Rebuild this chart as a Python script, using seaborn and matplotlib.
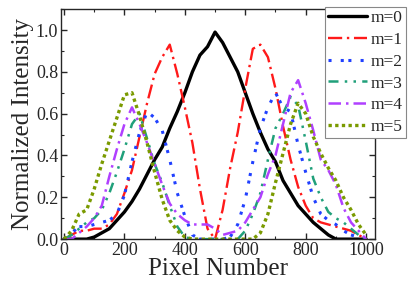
import numpy as np
import pandas as pd
import matplotlib
matplotlib.use("Agg")
import matplotlib.pyplot as plt
from matplotlib.ticker import AutoMinorLocator, MultipleLocator, FormatStrFormatter
import seaborn as sns

# pixel positions shared by all modes
pixel = list(range(0, 1001, 25))

m0 = [0.0, 0.0, 0.0, 0.0, 0.01, 0.03, 0.05, 0.09, 0.13, 0.18, 0.24, 0.31, 0.38, 0.44, 0.53, 0.61,
      0.70, 0.80, 0.88, 0.92, 0.99, 0.94, 0.87, 0.80, 0.70, 0.60, 0.51, 0.43, 0.37, 0.28, 0.22,
      0.16, 0.12, 0.08, 0.05, 0.02, 0.0, 0.0, 0.0, 0.0, 0.0]
m1 = [0.0, 0.02, 0.04, 0.04, 0.05, 0.05, 0.07, 0.12, 0.22, 0.33, 0.49, 0.65, 0.79, 0.87, 0.93, 0.79,
      0.63, 0.46, 0.24, 0.05, 0.0, 0.14, 0.34, 0.51, 0.72, 0.91, 0.93, 0.87, 0.72, 0.54, 0.38,
      0.25, 0.16, 0.10, 0.08, 0.07, 0.06, 0.05, 0.04, 0.02, 0.0]
m2 = [0.0, 0.03, 0.06, 0.06, 0.07, 0.08, 0.09, 0.12, 0.21, 0.37, 0.51, 0.61, 0.58, 0.52, 0.38, 0.22,
      0.11, 0.02, 0.0, 0.0, 0.0, 0.0, 0.01, 0.07, 0.19, 0.37, 0.53, 0.63, 0.70, 0.63, 0.61,
      0.45, 0.32, 0.20, 0.12, 0.09, 0.07, 0.04, 0.02, 0.01, 0.0]
m3 = [0.0, 0.02, 0.05, 0.08, 0.10, 0.14, 0.22, 0.32, 0.43, 0.55, 0.60, 0.48, 0.36, 0.27, 0.16, 0.06,
      0.01, 0.0, 0.0, 0.0, 0.0, 0.0, 0.0, 0.0, 0.04, 0.12, 0.22, 0.38, 0.53, 0.60, 0.68,
      0.64, 0.47, 0.29, 0.20, 0.13, 0.10, 0.08, 0.05, 0.02, 0.0]
m4 = [0.0, 0.0, 0.03, 0.06, 0.10, 0.16, 0.30, 0.43, 0.55, 0.63, 0.55, 0.46, 0.36, 0.26, 0.17, 0.12,
      0.09, 0.07, 0.07, 0.07, 0.05, 0.02, 0.03, 0.04, 0.08, 0.14, 0.20, 0.31, 0.40, 0.55, 0.70,
      0.76, 0.65, 0.52, 0.38, 0.33, 0.26, 0.15, 0.08, 0.04, 0.0]
m5 = [0.0, 0.04, 0.12, 0.14, 0.24, 0.36, 0.47, 0.58, 0.69, 0.70, 0.59, 0.46, 0.32, 0.19, 0.09, 0.04,
      0.01, 0.0, 0.0, 0.0, 0.0, 0.0, 0.0, 0.0, 0.0, 0.0, 0.03, 0.12, 0.27, 0.41, 0.55,
      0.65, 0.60, 0.49, 0.41, 0.34, 0.28, 0.20, 0.14, 0.07, 0.02]

labels = ["m=0", "m=1", "m=2", "m=3", "m=4", "m=5"]
colors = ["black", "#ff1a1a", "#2040ff", "#20a07a", "#b040ff", "#7a9a00"]
styles = ["-", (0, (6, 2, 1, 2)), (0, (1, 3, 1, 1.5, 1, 3)), (0, (4, 2.5, 1, 2.5, 1, 2.5)),
          (0, (5, 2, 1, 2)), (0, (1, 1))]
widths = [2.4, 1.7, 2.2, 1.8, 1.8, 2.4]

df = pd.DataFrame({"pixel": pixel * 6,
                   "intensity": m0 + m1 + m2 + m3 + m4 + m5,
                   "mode": [l for l in labels for _ in pixel]})

sns.set_style("ticks")
plt.rcParams["font.family"] = ["Liberation Serif", "DejaVu Serif"]

fig = plt.figure(figsize=(4.15, 2.84), dpi=100)
ax = fig.add_axes([0.147, 0.158, 0.757, 0.81])

for lab, c, ls, lw in zip(labels, colors, styles, widths):
    sns.lineplot(data=df[df["mode"] == lab], x="pixel", y="intensity", ax=ax,
                 color=c, linestyle=ls, linewidth=lw, label=lab, legend=False)

ax.set_xlim(-10, 1030)
ax.set_ylim(0, 1.1)
ax.xaxis.set_major_locator(MultipleLocator(200))
ax.xaxis.set_minor_locator(AutoMinorLocator(2))
ax.yaxis.set_major_locator(MultipleLocator(0.2))
ax.yaxis.set_minor_locator(AutoMinorLocator(2))
ax.yaxis.set_major_formatter(FormatStrFormatter("%.1f"))
ax.tick_params(which="both", direction="in", top=True, right=True, labelsize=13, pad=2)
ax.tick_params(which="major", length=4, width=1)
ax.tick_params(which="minor", length=2.5, width=0.8)
for s in ax.spines.values():
    s.set_linewidth(1.0)

ax.set_xlabel("Pixel Number", fontsize=18, labelpad=-1)
ax.set_ylabel("Normalized Intensity", fontsize=18, labelpad=1)

handles, labs = ax.get_legend_handles_labels()
leg = fig.legend(handles, labs, loc="upper left", bbox_to_anchor=(0.783, 0.975),
                 bbox_transform=fig.transFigure, fontsize=12.5, frameon=True, fancybox=False,
                 edgecolor="#888888", framealpha=1, borderpad=0.15, labelspacing=0.33,
                 handlelength=2.3, handletextpad=0.2, borderaxespad=0)
leg.get_frame().set_linewidth(0.8)

fig.savefig("out.png", dpi=100)
